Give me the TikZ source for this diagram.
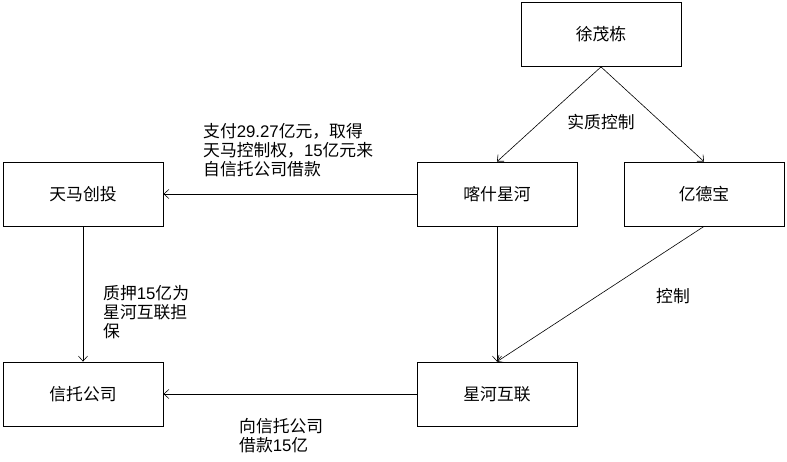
\documentclass[tikz,border=0pt]{standalone}
\usepackage{fontspec}
\setmainfont{Noto Sans CJK SC}
\newfontfamily\latf{Liberation Sans}
\usetikzlibrary{arrows.meta}
\begin{document}
\begin{tikzpicture}[x=1pt,y=-1pt,
  box/.style={draw,line width=0.8pt,minimum width=160pt,minimum height=64pt,inner sep=0pt,font=\fontsize{16.8}{19}\selectfont},
  lab/.style={inner sep=0pt,align=left,font=\fontsize{16.8}{19}\selectfont},
  conn/.style={draw,line width=0.6pt,-{Straight Barb[length=5pt,width=9pt]}}]
\useasboundingbox (0,0) rectangle (787,462);
\node[box] (xu) at (601,34.5) {徐茂栋};
\node[box] (ks) at (497,194) {喀什星河};
\node[box] (yd) at (704,194) {亿德宝};
\node[box] (tm) at (83,194) {天马创投};
\node[box] (xt) at (83,394) {信托公司};
\node[box] (xh) at (497,394) {星河互联};
\draw[conn] (xu.south) -- (ks.north);
\draw[conn] (xu.south) -- (yd.north);
\draw[conn] (ks.west) -- (tm.east);
\draw[conn] (tm.south) -- (xt.north);
\draw[conn] (ks.south) -- (xh.north);
\draw[conn] (yd.south) -- (xh.north);
\draw[conn] (xh.west) -- (xt.east);
\node[lab] (l1) at (601,122) {实质控制};
\node[lab,anchor=west] (l2) at (203,150) {支付{\latf 29.27}亿元，取得\\天马控制权，{\latf 15}亿元来\\自信托公司借款};
\node[lab,anchor=west] (l3) at (103,312) {质押{\latf 15}亿为\\星河互联担\\保};
\node[lab] (l4) at (673,296) {控制};
\node[lab,anchor=west] (l5) at (239,436) {向信托公司\\借款{\latf 15}亿};
\end{tikzpicture}
\end{document}
